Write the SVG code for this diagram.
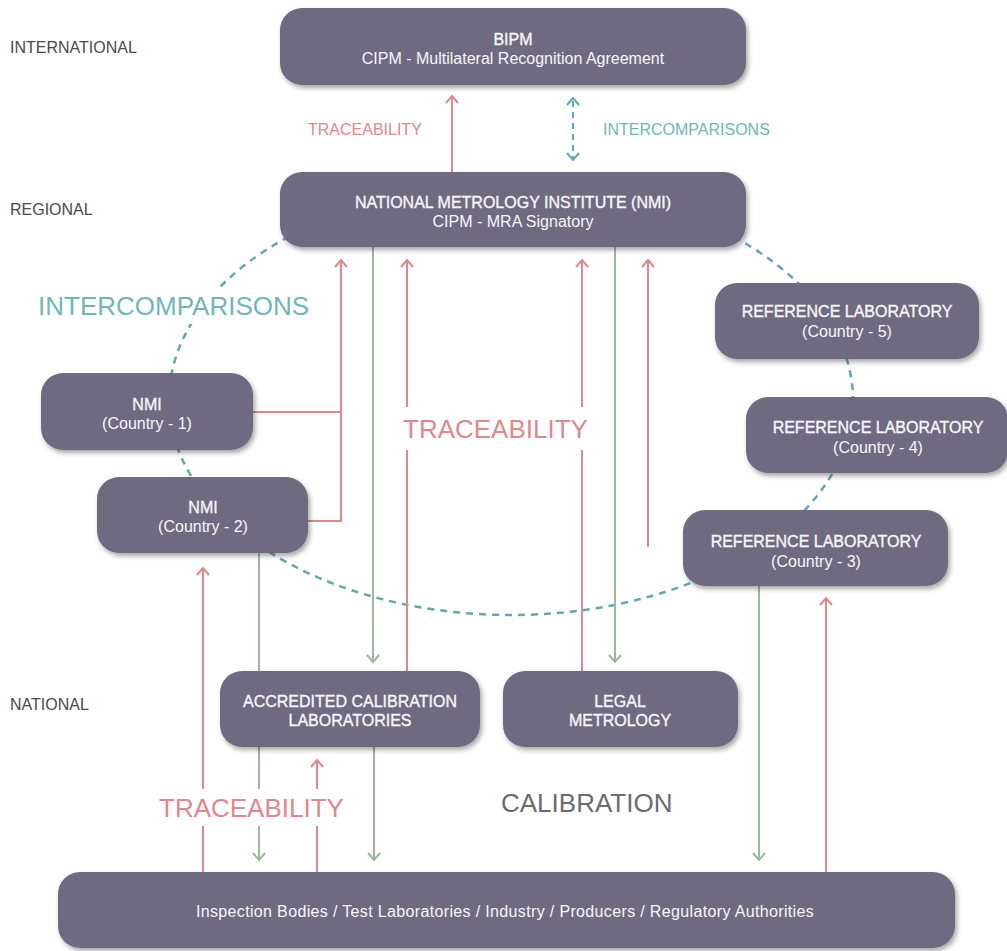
<svg xmlns="http://www.w3.org/2000/svg" width="1007" height="951" viewBox="0 0 1007 951">
<defs>
<filter id="sh" x="-10%" y="-20%" width="120%" height="150%">
<feDropShadow dx="2" dy="3" stdDeviation="2.5" flood-color="#000" flood-opacity="0.35"/>
</filter>
<marker id="ar" markerUnits="userSpaceOnUse" markerWidth="20" markerHeight="20" viewBox="-10 -10 20 20" refX="0" refY="0" orient="auto">
<path d="M-7,-6 L0,0 L-7,6" fill="none" stroke="#e3868b" stroke-width="2"/>
</marker>
<marker id="ag" markerUnits="userSpaceOnUse" markerWidth="20" markerHeight="20" viewBox="-10 -10 20 20" refX="0" refY="0" orient="auto">
<path d="M-7,-6 L0,0 L-7,6" fill="none" stroke="#9db79d" stroke-width="2"/>
</marker>
<marker id="at" markerUnits="userSpaceOnUse" markerWidth="20" markerHeight="20" viewBox="-10 -10 20 20" refX="0" refY="0" orient="auto-start-reverse">
<path d="M-7,-6 L0,0 L-7,6" fill="none" stroke="#5fa9b2" stroke-width="2" stroke-dasharray="none"/>
</marker>
<style>
.box{fill:#6f6b80;filter:url(#sh)}
.t{font-family:"Liberation Sans",Arial,sans-serif;fill:#f6f6f8;font-size:16px;text-anchor:middle}
.tt{stroke:#f6f6f8;stroke-width:0.35}
.lvl{font-family:"Liberation Sans",Arial,sans-serif;fill:#4a4a4c;font-size:16px}
.red{stroke:#e3868b;stroke-width:2;fill:none}
.grn{stroke:#9db79d;stroke-width:2;fill:none}
.tea{stroke:#5fa9b2;stroke-width:2.5;fill:none;stroke-dasharray:7 6}
.lr{font-family:"Liberation Sans",Arial,sans-serif;fill:#e3868b}
.lt{font-family:"Liberation Sans",Arial,sans-serif;fill:#6fb5bd}
</style>
</defs>
<rect width="1007" height="951" fill="#fff"/>

<g id="levels">
<text class="lvl" x="10" y="53">INTERNATIONAL</text>
<text class="lvl" x="10" y="215">REGIONAL</text>
<text class="lvl" x="10" y="710">NATIONAL</text>
</g>

<g id="connectors">
<ellipse class="tea" cx="511" cy="400" rx="342" ry="215"/>
<rect x="34" y="290" width="280" height="34" fill="#fff"/>
<text class="lt" x="38" y="315" font-size="26">INTERCOMPARISONS</text>

<path class="red" d="M452,172 V96" marker-end="url(#ar)"/>
<path d="M573,98 V160" fill="none" stroke="#5fa9b2" stroke-width="2" stroke-dasharray="6 5" stroke-dashoffset="-3" marker-start="url(#at)" marker-end="url(#at)"/>
<text class="lr" x="308" y="135" font-size="16">TRACEABILITY</text>
<text class="lt" x="603" y="135" font-size="16">INTERCOMPARISONS</text>

<path class="red" d="M253,412 H341 M308,521 H341 V260" marker-end="url(#ar)"/>
<path class="red" d="M407,671 V450"/>
<path class="red" d="M407,407 V260" marker-end="url(#ar)"/>
<path class="red" d="M582,671 V450"/>
<path class="red" d="M582,407 V260" marker-end="url(#ar)"/>
<path class="red" d="M648,547 V260" marker-end="url(#ar)"/>
<text class="lr" x="403" y="438" font-size="26">TRACEABILITY</text>

<path class="grn" d="M373,247 V662" marker-end="url(#ag)"/>
<path class="grn" d="M615,247 V662" marker-end="url(#ag)"/>
<path class="grn" d="M259,553 V789"/>
<path class="grn" d="M259,826 V860" marker-end="url(#ag)"/>
<path class="grn" d="M374,747 V860" marker-end="url(#ag)"/>
<path class="grn" d="M759,586 V860" marker-end="url(#ag)"/>

<path class="red" d="M203,872 V826 M203,789 V568" marker-end="url(#ar)"/>
<path class="red" d="M317,872 V826 M317,789 V760" marker-end="url(#ar)"/>
<path class="red" d="M826,872 V598" marker-end="url(#ar)"/>
<text class="lr" x="159" y="817" font-size="26">TRACEABILITY</text>
<text x="501" y="812" font-family="Liberation Sans, Arial, sans-serif" font-size="26" fill="#6b6b6d">CALIBRATION</text>
</g>

<g id="bipm">
<rect class="box" x="280" y="8" width="466" height="77" rx="22"/>
<text class="t tt" x="513" y="45">BIPM</text>
<text class="t" x="513" y="64">CIPM - Multilateral Recognition Agreement</text>
</g>
<g id="nmi">
<rect class="box" x="280" y="172" width="466" height="75" rx="22"/>
<text class="t tt" x="513" y="208">NATIONAL METROLOGY INSTITUTE (NMI)</text>
<text class="t" x="513" y="227">CIPM - MRA Signatory</text>
</g>
<g id="nmi1">
<rect class="box" x="41" y="373" width="212" height="77" rx="22"/>
<text class="t tt" x="147" y="410">NMI</text>
<text class="t" x="147" y="429">(Country - 1)</text>
</g>
<g id="nmi2">
<rect class="box" x="97" y="477" width="211" height="76" rx="22"/>
<text class="t tt" x="203" y="513">NMI</text>
<text class="t" x="203" y="532">(Country - 2)</text>
</g>
<g id="ref5">
<rect class="box" x="715" y="283" width="264" height="76" rx="22"/>
<text class="t tt" x="847" y="317">REFERENCE LABORATORY</text>
<text class="t" x="847" y="337">(Country - 5)</text>
</g>
<g id="ref4">
<rect class="box" x="746" y="397" width="262" height="76" rx="22"/>
<text class="t tt" x="878" y="433">REFERENCE LABORATORY</text>
<text class="t" x="878" y="453">(Country - 4)</text>
</g>
<g id="ref3">
<rect class="box" x="683" y="510" width="265" height="76" rx="22"/>
<text class="t tt" x="816" y="547">REFERENCE LABORATORY</text>
<text class="t" x="816" y="567">(Country - 3)</text>
</g>
<g id="acl">
<rect class="box" x="220" y="671" width="260" height="76" rx="22"/>
<text class="t tt" x="350" y="707">ACCREDITED CALIBRATION</text>
<text class="t tt" x="350" y="726">LABORATORIES</text>
</g>
<g id="legal">
<rect class="box" x="503" y="671" width="235" height="76" rx="22"/>
<text class="t tt" x="620" y="707">LEGAL</text>
<text class="t tt" x="620" y="726">METROLOGY</text>
</g>
<g id="users">
<rect class="box" x="58" y="872" width="897" height="76" rx="22"/>
<text class="t" x="505" y="917" letter-spacing="0.35">Inspection Bodies / Test Laboratories / Industry / Producers / Regulatory Authorities</text>
</g>
</svg>
